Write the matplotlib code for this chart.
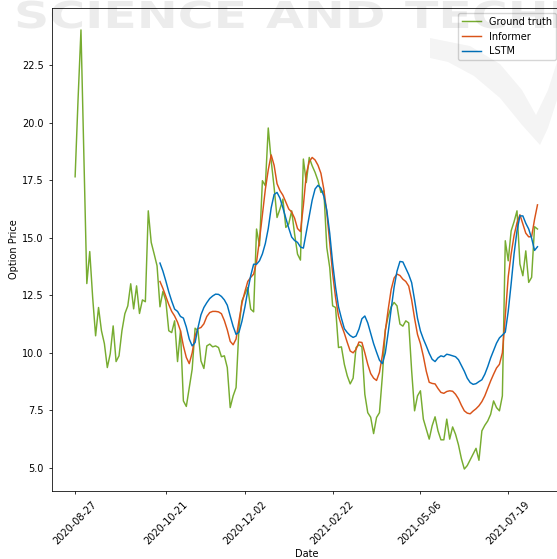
import numpy as np
import matplotlib
matplotlib.use("Agg")
import matplotlib.pyplot as plt
from matplotlib.textpath import TextPath
from matplotlib.patches import PathPatch, Polygon
from matplotlib.font_manager import FontProperties
from matplotlib.transforms import Affine2D

# option price series, one value per trading day
ground_truth = [
    17.65, 21.0, 24.03, 18.5, 13.01, 14.4, 12.4, 10.74, 11.97, 10.96,
    10.4, 9.36, 9.96, 11.17, 9.62, 9.87, 10.96, 11.7, 12.04, 13.0,
    11.91, 12.91, 11.71, 12.3, 12.22, 16.17, 14.8, 14.3, 13.78, 12.0,
    12.67, 12.26, 10.96, 10.88, 11.39, 9.62, 10.96, 7.91, 7.67, 8.49,
    9.29, 11.07, 10.96, 9.65, 9.32, 10.3, 10.38, 10.26, 10.3, 10.23,
    9.83, 9.87, 9.36, 7.62, 8.13, 8.49, 11.1, 12.26, 12.55, 12.84,
    11.9, 11.78, 15.38, 14.65, 17.48, 17.26, 19.77, 18.35, 17.19, 15.88,
    16.25, 16.68, 15.45, 15.6, 16.17, 15.16, 14.29, 14.03, 18.42, 17.4,
    18.49, 18.13, 17.84, 17.48, 16.97, 17.04, 14.58, 13.71, 12.04, 11.97,
    10.23, 10.26, 9.5, 9.0, 8.65, 8.9, 10.23, 10.35, 10.26, 8.2,
    7.4, 7.2, 6.49, 7.19, 7.4, 9.0, 11.0, 11.6, 12.0, 12.19,
    12.04, 11.25, 11.16, 11.39, 11.3, 9.22, 7.48, 8.13, 8.35, 7.12,
    6.68, 6.25, 6.83, 7.22, 6.61, 6.22, 6.22, 7.12, 6.25, 6.78,
    6.46, 6.0, 5.4, 4.95, 5.1, 5.35, 5.6, 5.85, 5.33, 6.61,
    6.85, 7.04, 7.33, 7.91, 7.62, 7.48, 8.13, 14.87, 14.0, 15.3,
    15.7, 16.17, 13.86, 13.35, 14.43, 13.06, 13.28, 15.48, 15.38,
]

# model forecasts start at day 29
pred_start = 29
informer = [
    13.1, 12.8, 12.45, 12.1, 11.8, 11.6, 11.33, 10.96, 10.3, 9.8,
    9.53, 10.0, 10.75, 11.05, 11.1, 11.26, 11.58, 11.75, 11.8, 11.8,
    11.78, 11.7, 11.4, 11.0, 10.5, 10.35, 10.6, 11.4, 12.15, 12.65,
    13.1, 13.28, 13.42, 13.95, 14.9, 16.0, 17.1, 17.95, 18.6, 18.15,
    17.35, 17.05, 16.85, 16.55, 16.25, 16.12, 15.85, 15.4, 15.27, 16.4,
    17.77, 18.3, 18.49, 18.38, 18.15, 17.8, 17.1, 16.1, 14.8, 13.45,
    12.4, 11.6, 11.2, 10.85, 10.45, 10.08, 10.0, 10.15, 10.47, 10.45,
    10.0, 9.5, 9.1, 8.9, 8.8, 9.15, 9.9, 10.95, 11.9, 12.75,
    13.25, 13.42, 13.36, 13.2, 13.1, 12.9, 12.3, 11.5, 10.8, 10.4,
    9.85, 9.2, 8.72, 8.67, 8.65, 8.45, 8.28, 8.24, 8.32, 8.35,
    8.33, 8.2, 8.0, 7.72, 7.48, 7.38, 7.35, 7.47, 7.57, 7.7,
    7.88, 8.13, 8.45, 8.78, 9.07, 9.34, 9.5, 10.0, 11.6, 13.3,
    14.3, 15.1, 15.65, 16.0, 15.6, 15.2, 15.04, 15.05, 15.8, 16.43,
]
lstm = [
    13.9, 13.55, 13.12, 12.65, 12.25, 11.9, 11.8, 11.58, 11.51, 11.12,
    10.6, 10.3, 10.45, 11.1, 11.65, 11.97, 12.18, 12.36, 12.47, 12.55,
    12.54, 12.45, 12.3, 12.07, 11.6, 11.15, 10.8, 10.9, 11.37, 11.98,
    12.7, 13.35, 13.85, 13.85, 14.0, 14.3, 14.75, 15.4, 16.3, 16.88,
    16.97, 16.72, 16.3, 15.85, 15.42, 15.03, 14.88, 14.8, 14.6, 14.55,
    15.25, 15.95, 16.63, 17.12, 17.28, 17.15, 16.8, 16.2, 15.2, 13.9,
    12.85, 12.0, 11.5, 11.05, 10.88, 10.75, 10.67, 10.73, 11.03, 11.48,
    11.6, 11.3, 10.85, 10.4, 10.03, 9.68, 9.53, 10.0, 10.9, 11.9,
    12.85, 13.55, 13.97, 13.95, 13.68, 13.4, 13.05, 12.3, 11.5, 10.95,
    10.6, 10.3, 9.98, 9.72, 9.62, 9.78, 9.87, 9.83, 9.94, 9.91,
    9.87, 9.83, 9.7, 9.45, 9.2, 8.9, 8.71, 8.63, 8.66, 8.75,
    8.83, 9.07, 9.4, 9.78, 10.1, 10.42, 10.65, 10.77, 10.9, 11.8,
    13.0, 14.3, 15.3, 15.95, 15.95, 15.63, 15.38, 14.98, 14.45, 14.61,
]

tick_days = [0, 31, 58, 88, 118, 148]
tick_dates = ["2020-08-27", "2020-10-21", "2020-12-02",
              "2021-02-22", "2021-05-06", "2021-07-19"]

plt.rcParams["font.size"] = 7
plt.rcParams["font.family"] = ["DejaVu Sans"]

W, H = 557, 559
fig = plt.figure(figsize=(W / 100, H / 100), dpi=100)
ax = fig.add_axes([52 / W, (H - 491) / H, (560.6 - 52) / W, 483 / H])

days = np.arange(len(ground_truth))
pred_days = np.arange(pred_start, pred_start + len(informer))

lw = 1.05
ax.plot(days, ground_truth, color="#77AC30", lw=lw, label="Ground truth")
ax.plot(pred_days, informer, color="#D95319", lw=lw, label="Informer")
ax.plot(pred_days, lstm, color="#0072BD", lw=lw, label="LSTM")

ax.set_xticks(tick_days)
ax.set_xticklabels(tick_dates, rotation=45)
ax.set_yticks([5.0, 7.5, 10.0, 12.5, 15.0, 17.5, 20.0, 22.5])
ax.set_xlabel("Date", labelpad=1.5)
ax.set_ylabel("Option Price", labelpad=2)
ax.tick_params(length=2.5, width=0.56)
for s in ax.spines.values():
    s.set_linewidth(0.56)
ax.legend(loc="upper right", fontsize=7)

# publisher watermark drawn over the figure in pixel coordinates
ov = fig.add_axes([0, 0, 1, 1], zorder=10)
ov.set_xlim(0, W)
ov.set_ylim(H, 0)
ov.axis("off")
ov.patch.set_alpha(0)

fp = FontProperties(family="DejaVu Sans", weight="bold")
cap = TextPath((0, 0), "E", size=1, prop=fp).get_extents().height
letter_w = TextPath((0, 0), "SCIENCE", size=1, prop=fp).get_extents().width
sx = (240 - 14) / letter_w
sy = 27 / cap
for word, x0 in [("SCIENCE", 14), ("AND", 266), ("TECHNOLOGY", 405)]:
    tp = TextPath((0, 0), word, size=1, prop=fp)
    tr = Affine2D().scale(sx, -sy).translate(x0, 28)
    ov.add_patch(PathPatch(tr.transform_path(tp), fc="black", ec="none",
                           alpha=0.075))

# logo swoosh (V shape) at the right edge
swoosh = [(430, 38), (470, 46), (500, 64), (522, 90), (536, 115),
          (548, 90), (557, 62), (557, 100), (548, 128), (540, 145),
          (522, 125), (500, 98), (474, 76), (448, 62), (430, 58)]
ov.add_patch(Polygon(swoosh, closed=True, fc="black", ec="none", alpha=0.045))

fig.savefig("out.png", dpi=100)
